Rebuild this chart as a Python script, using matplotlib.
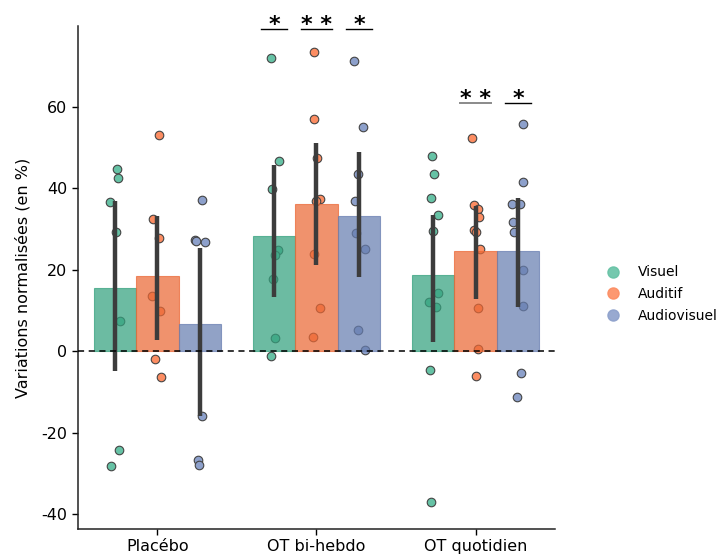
import matplotlib
matplotlib.use("Agg")
import matplotlib.pyplot as plt
from matplotlib.lines import Line2D
import matplotlib.colors as mcolors
import colorsys
import numpy as np

plt.rcParams["axes.unicode_minus"] = False

# ---------------- data ----------------
categories = ["Placébo", "OT bi-hebdo", "OT quotidien"]
hues = ["Visuel", "Auditif", "Audiovisuel"]

placebo_visuel = [44.7, 42.6, 36.7, 29.3, 7.4, -24.1, -28.1]
placebo_auditif = [53.1, 32.4, 27.8, 13.5, 9.8, -1.8, -6.3]
placebo_audiovisuel = [37.0, 27.2, 27.0, 26.7, -15.8, -26.7, -27.9]

bihebdo_visuel = [72.0, 46.6, 39.7, 24.8, 23.6, 17.7, 3.3, -1.1]
bihebdo_auditif = [73.3, 56.9, 47.5, 37.4, 36.9, 23.8, 10.5, 3.4]
bihebdo_audiovisuel = [71.2, 54.9, 43.4, 36.9, 28.9, 25.0, 5.2, 0.4]

quotidien_visuel = [47.9, 43.5, 37.5, 33.4, 29.5, 14.4, 12.0, 10.9, -4.5, -37.0]
quotidien_auditif = [52.4, 35.8, 34.8, 33.0, 29.7, 29.2, 25.2, 10.7, 0.5, -6.0]
quotidien_audiovisuel = [55.7, 41.6, 36.2, 36.1, 31.8, 29.2, 20.0, 11.1, -5.4, -11.3]

# 95% CI bounds
ci_low = {"Placébo": [-4.8, 2.8, -15.9],
          "OT bi-hebdo": [13.2, 21.1, 18.1],
          "OT quotidien": [2.3, 12.9, 10.9]}
ci_high = {"Placébo": [36.8, 33.3, 25.4],
           "OT bi-hebdo": [45.7, 51.0, 48.9],
           "OT quotidien": [33.4, 35.7, 37.6]}

# significance marks
sig_category = ["OT bi-hebdo", "OT bi-hebdo", "OT bi-hebdo", "OT quotidien", "OT quotidien"]
sig_hue = ["Visuel", "Auditif", "Audiovisuel", "Auditif", "Audiovisuel"]
sig_text = ["*", "* *", "*", "* *", "*"]
sig_level = [79.0, 79.0, 79.0, 60.8, 60.8]

values = {
    ("Placébo", "Visuel"): placebo_visuel,
    ("Placébo", "Auditif"): placebo_auditif,
    ("Placébo", "Audiovisuel"): placebo_audiovisuel,
    ("OT bi-hebdo", "Visuel"): bihebdo_visuel,
    ("OT bi-hebdo", "Auditif"): bihebdo_auditif,
    ("OT bi-hebdo", "Audiovisuel"): bihebdo_audiovisuel,
    ("OT quotidien", "Visuel"): quotidien_visuel,
    ("OT quotidien", "Auditif"): quotidien_auditif,
    ("OT quotidien", "Audiovisuel"): quotidien_audiovisuel,
}

# strip-plot jitter (x offsets, in category units)
jitter = {
    ("Placébo", "Visuel"): [.014, .018, -.030, .004, .033, .025, -.028],
    ("Placébo", "Auditif"): [.008, -.030, .008, -.032, .013, -.013, .025],
    ("Placébo", "Audiovisuel"): [.011, -.033, -.025, .032, .014, -.013, -.006],
    ("OT bi-hebdo", "Visuel"): [-.021, .033, -.011, .027, .006, -.008, .004, -.021],
    ("OT bi-hebdo", "Auditif"): [-.013, -.014, .006, .025, -.006, -.014, .025, -.023],
    ("OT bi-hebdo", "Audiovisuel"): [-.029, .023, -.006, -.023, -.021, .036, -.008, .036],
    ("OT quotidien", "Visuel"): [-.006, .008, -.015, .029, -.003, .029, -.028, .019, -.017, -.013],
    ("OT quotidien", "Auditif"): [-.019, -.008, .013, .025, -.008, .002, .030, .017, .017, .004],
    ("OT quotidien", "Audiovisuel"): [.030, .034, -.035, .013, -.033, -.023, .030, .034, .017, -.006],
}

# ---------------- style ----------------
palette = ["#66c2a5", "#fc8d62", "#8da0cb"]
BAR_ALPHA = 0.72


def desaturate(color, prop):
    r, g, b = mcolors.to_rgb(color)
    h, l, s = colorsys.rgb_to_hls(r, g, b)
    return colorsys.hls_to_rgb(h, l, s * prop)


def base_for_alpha(target, alpha):
    return tuple(min(1, max(0, (t - (1 - alpha)) / alpha)) for t in target)


bar_colors = [base_for_alpha(desaturate(c, 0.85), BAR_ALPHA) for c in palette]

fig = plt.figure(figsize=(7.18, 5.58), dpi=100)
ax = fig.add_axes([0.1086, 0.052, 0.6644, 0.9014])

n_hue = len(hues)
group_width = 0.8
bar_w = group_width / n_hue
x_cat = np.arange(len(categories))

for hi, hue in enumerate(hues):
    offs = -group_width / 2 + bar_w * (hi + 0.5)
    means = [np.mean(values[(c, hue)]) for c in categories]
    ax.bar(x_cat + offs, means, width=bar_w, color=bar_colors[hi],
           alpha=BAR_ALPHA, edgecolor=bar_colors[hi], linewidth=0.8, zorder=3)
    for ci, cat in enumerate(categories):
        xc = ci + offs
        ax.plot([xc, xc], [ci_low[cat][hi], ci_high[cat][hi]], color="#3c3c3c",
                lw=3.2, solid_capstyle="butt", zorder=4)
        vals = np.array(values[(cat, hue)])
        xs = xc + np.array(jitter[(cat, hue)])
        ax.scatter(xs, vals, s=38, color=palette[hi], edgecolor="#444444",
                   linewidth=0.8, zorder=2)

ax.axhline(0, color="black", lw=1.1, ls=(0, (4, 3)), zorder=5)

# significance marks
for cat, hue, txt, lvl in zip(sig_category, sig_hue, sig_text, sig_level):
    ci = categories.index(cat)
    hi = hues.index(hue)
    xc = ci - group_width / 2 + bar_w * (hi + 0.5)
    half = 0.082 if txt == "*" else 0.095
    lc = "#8a8a8a" if (txt != "*" and lvl < 70) else "black"
    ax.plot([xc - half, xc + half], [lvl, lvl], color=lc,
            lw=1.4 if lc != "black" else 1.0, clip_on=False, zorder=6)
    ax.text(xc, lvl + 1.0, txt, ha="center", va="center", fontsize=16,
            fontweight="bold", clip_on=False)

ax.set_xlim(-0.5, 2.5)
ax.set_ylim(-43.6, 79.8)
ax.set_xticks(x_cat)
ax.set_xticklabels(categories, fontsize=11.5)
ax.set_yticks([-40, -20, 0, 20, 40, 60])
ax.tick_params(axis="y", labelsize=11.5, length=4, width=1)
ax.tick_params(axis="x", length=4, width=1)
ax.set_ylabel("Variations normalisées (en %)", fontsize=11.5, labelpad=8)
ax.spines["top"].set_visible(False)
ax.spines["right"].set_visible(False)
for s in ("left", "bottom"):
    ax.spines[s].set_linewidth(1.1)
    ax.spines[s].set_color("#222222")

handles = [Line2D([0], [0], marker="o", ls="", markersize=8,
                  markerfacecolor=palette[i], markeredgecolor=palette[i],
                  alpha=0.9, label=hues[i]) for i in range(n_hue)]
fig.legend(handles=handles, loc="center left", bbox_to_anchor=(0.8357, 0.473),
           frameon=False, fontsize=10, handlelength=1.0, handletextpad=1.3,
           labelspacing=0.55, borderaxespad=0)

fig.savefig("out.png", dpi=100)
